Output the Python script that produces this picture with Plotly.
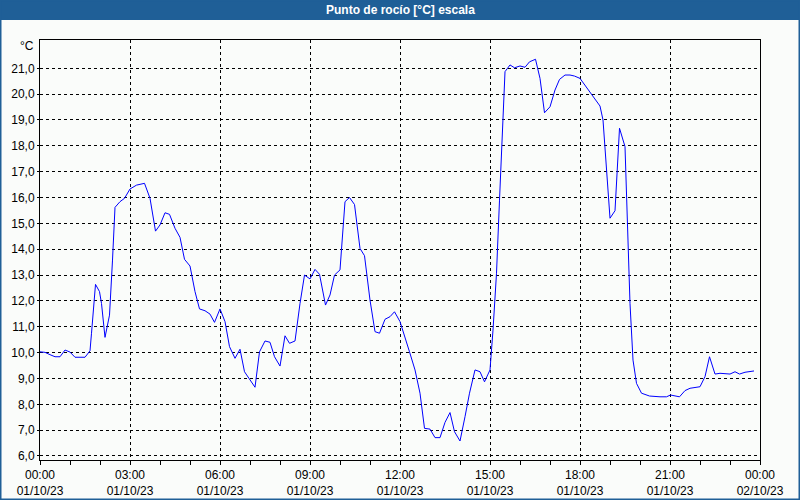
import plotly.graph_objects as go
import datetime as dt

# minutes after 2023-10-01 00:00 and dew point values (°C)
minutes = [0, 10, 20, 30, 40, 50, 60, 70, 90, 100, 103, 111, 119, 123, 130, 139, 145, 150, 160, 169,
           180, 193, 209, 220, 231, 240, 250, 259, 270, 280, 289, 300, 310, 319, 330, 340, 349, 360, 370, 379,
           390, 400, 409, 420, 430, 439, 450, 460, 469, 480, 490, 499, 510, 520, 529, 540, 550, 559, 571, 580,
           589, 600, 610, 619, 629, 640, 649, 660, 670, 679, 690, 700, 709, 720, 730, 739, 750, 760, 769, 780,
           790, 800, 810, 820, 829, 840, 850, 859, 870, 880, 889, 900, 906, 913, 919, 924, 930, 940, 949, 960,
           970, 979, 991, 1000, 1009, 1020, 1030, 1039, 1050, 1060, 1069, 1080, 1090, 1099, 1110, 1120, 1126, 1133, 1140, 1150,
           1155, 1159, 1170, 1173, 1180, 1186, 1193, 1203, 1219, 1240, 1253, 1261, 1270, 1279, 1290, 1300, 1320, 1330, 1339, 1350,
           1360, 1380, 1390, 1399, 1410, 1428]
values = [10.03, 10.01, 9.92, 9.84, 9.84, 10.10, 10.02, 9.82, 9.82, 10.07, 10.75, 12.64, 12.36, 11.90, 10.59, 11.45, 13.58, 15.62, 15.84, 15.97,
          16.33, 16.48, 16.55, 15.97, 14.70, 14.94, 15.41, 15.35, 14.81, 14.46, 13.61, 13.35, 12.36, 11.69, 11.62, 11.49, 11.17, 11.69, 11.20, 10.23,
          9.78, 10.13, 9.26, 8.94, 8.66, 10.03, 10.45, 10.40, 9.84, 9.48, 10.65, 10.36, 10.45, 11.90, 13.00, 12.85, 13.22, 13.03, 11.84, 12.23,
          13.00, 13.20, 15.84, 16.00, 15.73, 14.03, 13.75, 12.03, 10.81, 10.75, 11.29, 11.39, 11.58, 11.20, 10.62, 10.03, 9.33, 8.43, 7.07, 7.04,
          6.71, 6.71, 7.30, 7.68, 6.94, 6.58, 7.52, 8.43, 9.33, 9.26, 8.87, 9.33, 10.87, 13.07, 15.90, 18.22, 20.87, 21.13, 21.02, 21.09,
          21.04, 21.25, 21.35, 20.61, 19.28, 19.51, 20.16, 20.57, 20.74, 20.74, 20.70, 20.61, 20.35, 20.10, 19.84, 19.54, 19.00, 17.06, 15.20, 15.49,
          17.19, 18.68, 17.97, 15.90, 11.90, 9.71, 8.81, 8.43, 8.32, 8.29, 8.29, 8.36, 8.32, 8.29, 8.53, 8.62, 8.68, 9.07, 9.84, 9.17,
          9.20, 9.17, 9.26, 9.17, 9.24, 9.29]

x_tick_vals = ["2023-10-01 00:00", "2023-10-01 03:00", "2023-10-01 06:00", "2023-10-01 09:00", "2023-10-01 12:00",
               "2023-10-01 15:00", "2023-10-01 18:00", "2023-10-01 21:00", "2023-10-02 00:00"]
x_tick_text = ["00:00<br>01/10/23", "03:00<br>01/10/23", "06:00<br>01/10/23", "09:00<br>01/10/23", "12:00<br>01/10/23",
               "15:00<br>01/10/23", "18:00<br>01/10/23", "21:00<br>01/10/23", "00:00<br>02/10/23"]
y_tick_vals = [6, 7, 8, 9, 10, 11, 12, 13, 14, 15, 16, 17, 18, 19, 20, 21]
y_tick_text = ["6,0", "7,0", "8,0", "9,0", "10,0", "11,0", "12,0", "13,0", "14,0", "15,0", "16,0", "17,0",
               "18,0", "19,0", "20,0", "21,0"]

title_text = "Punto de rocío [°C] escala"
unit_text = "°C"

base = dt.datetime(2023, 10, 1)
xs = [base + dt.timedelta(minutes=m) for m in minutes]

FONT = "Liberation Sans, Arial, sans-serif"
BLUE = "#1f5f97"
BG = "#fafcfa"

fig = go.Figure()
fig.add_trace(go.Scatter(x=xs, y=values, mode="lines", line=dict(color="#0000ff", width=1),
                         hoverinfo="skip", showlegend=False))

fig.update_layout(
    width=800, height=500,
    margin=dict(l=40, r=40, t=40, b=40, autoexpand=False),
    paper_bgcolor=BG, plot_bgcolor=BG,
    font=dict(family=FONT, size=12, color="black"),
    showlegend=False,
)

fig.update_xaxes(
    type="date", automargin=False,
    range=["2023-10-01 00:00", "2023-10-02 00:00"],
    tickvals=x_tick_vals, ticktext=x_tick_text,
    ticks="outside", ticklen=4, tickcolor="black", tickwidth=1,
    showline=True, linecolor="black", linewidth=1, mirror=True,
    showgrid=True, gridcolor="black", gridwidth=1, griddash="3px,3px",
    minor=dict(tick0="2023-10-01", dtick=3600000, ticks="outside", ticklen=4, tickcolor="black", showgrid=False),
    zeroline=False,
    tickfont=dict(family=FONT, size=12, color="black"),
)
fig.update_yaxes(
    range=[5.845, 22.095], automargin=False,
    tickvals=y_tick_vals, ticktext=y_tick_text,
    ticks="outside", ticklen=2, tickcolor="black",
    showline=True, linecolor="black", linewidth=1, mirror=True,
    showgrid=True, gridcolor="black", gridwidth=1, griddash="3px,3px",
    zeroline=False,
    tickfont=dict(family=FONT, size=12, color="black"),
)

# title bar and outer frame
top_px, bot_px, h_plot = 40, 40, 420
y_top = 1 + top_px / h_plot
y_bot = -bot_px / h_plot
x_left = -40 / 720
x_right = 1 + 40 / 720
fig.add_shape(type="rect", xref="paper", yref="paper", x0=x_left, x1=x_right, y0=1 + 20 / h_plot, y1=y_top,
              fillcolor=BLUE, line=dict(width=0), layer="below")
fig.add_shape(type="rect", xref="paper", yref="paper", x0=x_left + 0.5 / 720, x1=x_right - 0.5 / 720,
              y0=y_bot + 0.5 / h_plot, y1=y_top - 0.5 / h_plot,
              fillcolor="rgba(0,0,0,0)", line=dict(color=BLUE, width=2))

fig.add_annotation(text="<b>" + title_text + "</b>", xref="paper", yref="paper", x=0.5, y=1 + 30 / h_plot,
                   showarrow=False, font=dict(family=FONT, size=12, color="white"), yanchor="middle")
fig.add_annotation(text=unit_text, xref="paper", yref="y", x=0, y=21.86, xanchor="right", xshift=-4,
                   showarrow=False, font=dict(family=FONT, size=12, color="black"))

fig.write_html("out.html")
